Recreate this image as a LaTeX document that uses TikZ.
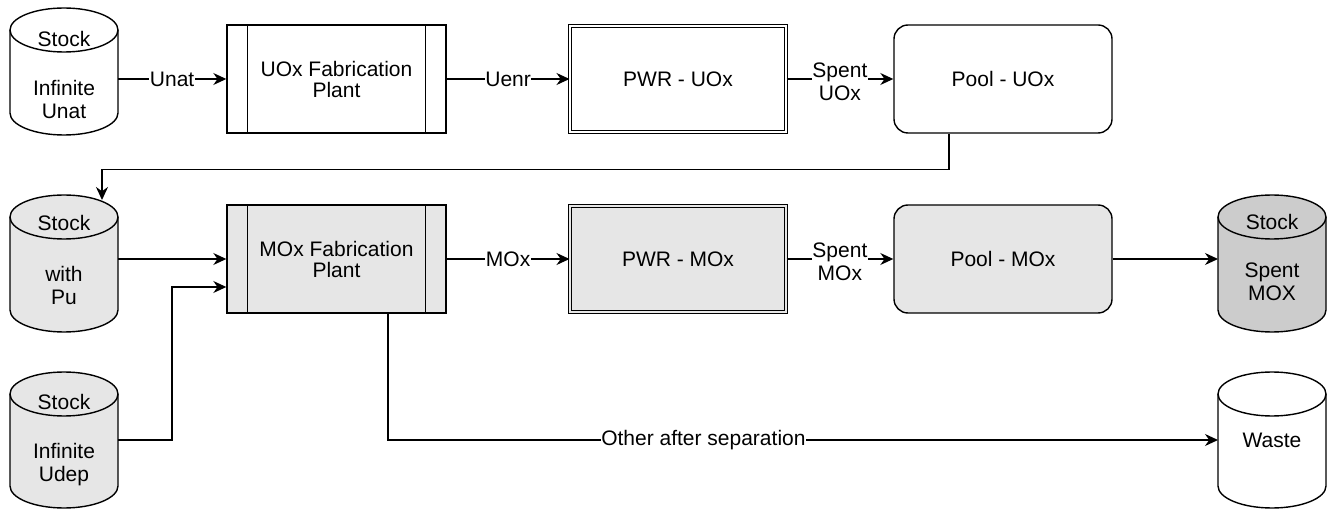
\documentclass[tikz,border=0pt]{standalone}
\usepackage{fontspec}
\setmainfont{Liberation Sans}
\usetikzlibrary{arrows.meta}
\definecolor{boxgray}{HTML}{E6E6E6}
\definecolor{drumgray}{HTML}{CCCCCC}

% cylinder drawn round an empty node #1, filled with #2
\newcommand{\drum}[2]{%
  \filldraw[fill=#2] ([yshift=-22pt]#1.north west) -- ([yshift=22pt]#1.south west)
    arc[start angle=180, end angle=360, x radius=54pt, y radius=22pt]
    -- ([yshift=-22pt]#1.north east)
    arc[start angle=0, end angle=180, x radius=54pt, y radius=22pt] -- cycle;
  \draw ([yshift=-22pt]#1.north west) arc[start angle=180, end angle=360, x radius=54pt, y radius=22pt];}

\begin{document}
\begin{tikzpicture}[x=1pt, y=1pt, line width=1.4pt, font=\fontsize{21}{23}\selectfont]
  \tikzstyle{drum}=[minimum width=108pt, minimum height=137pt, inner sep=0pt, outer sep=0pt]
  \tikzstyle{plant}=[draw, minimum width=219pt, minimum height=108pt, align=center,
    font=\fontsize{21}{21}\selectfont]
  \tikzstyle{reactor}=[draw, double, double distance=2.5pt, line width=1pt, minimum width=216pt, minimum height=106pt]
  \tikzstyle{pool}=[draw, rounded corners=14pt, minimum width=218pt, minimum height=108pt]
  \tikzstyle{flow}=[-{Stealth[length=13pt, width=12pt]}]
  \tikzstyle{lbl}=[fill=white, inner sep=0.5pt, align=center]

  \useasboundingbox (0,0) rectangle (1339,512);

  % stocks
  \node[drum, minimum height=127pt] (unat) at (64,440.5) {};
  \node[drum] (pu) at (64,248.5) {};
  \node[drum, minimum height=136pt] (udep) at (64,72) {};
  \node[drum] (smox) at (1272,248.5) {};
  \node[drum, minimum height=136pt] (waste) at (1272,72) {};

  \drum{unat}{white}
  \drum{pu}{boxgray}
  \drum{udep}{boxgray}
  \drum{smox}{drumgray}
  \drum{waste}{white}

  \node (unatTop) at ([yshift=-31pt]unat.north) {Stock};
  \node[align=center] (unatTxt) at ([yshift=-91pt]unat.north) {Infinite\\Unat};
  \node (puTop) at ([yshift=-28pt]pu.north) {Stock};
  \node[align=center] (puTxt) at ([yshift=-90pt]pu.north) {with\\Pu};
  \node (udepTop) at ([yshift=-30pt]udep.north) {Stock};
  \node[align=center] (udepTxt) at ([yshift=-93pt]udep.north) {Infinite\\Udep};
  \node (smoxTop) at ([yshift=-27pt]smox.north) {Stock};
  \node[align=center] (smoxTxt) at ([yshift=-87pt]smox.north) {Spent\\MOX};
  \node (wasteTxt) at ([yshift=-68pt]waste.north) {Waste};

  % plants, reactors, pools
  \node[plant] (fabU) at (336.5,433) {UOx Fabrication\\Plant};
  \node[reactor] (pwrU) at (678,433) {PWR - UOx};
  \node[pool] (poolU) at (1003,433) {Pool - UOx};
  \node[plant, fill=boxgray] (fabM) at (336.5,253) {MOx Fabrication\\Plant};
  \node[reactor, fill=boxgray, double=boxgray] (pwrM) at (678,253) {PWR - MOx};
  \node[pool, fill=boxgray] (poolM) at (1003,253) {Pool - MOx};

  \foreach \p in {fabU, fabM} {
    \draw ([xshift=21pt]\p.north west) -- ([xshift=21pt]\p.south west);
    \draw ([xshift=-21pt]\p.north east) -- ([xshift=-21pt]\p.south east);
  }

  % flows
  \draw[flow] (unat.east |- fabU.west) -- node[lbl] (unatLbl) {Unat} (fabU.west);
  \draw[flow] (fabU) -- node[lbl] (uenrLbl) {Uenr} (pwrU);
  \draw[flow] (pwrU) -- node[lbl, yshift=-3pt] (suoxLbl) {Spent\\UOx} (poolU);
  \draw[flow] ([xshift=-54pt]poolU.south) -- ++(0,-36) -| ([xshift=38pt,yshift=-5pt]pu.north);
  \draw[flow] (pu.east |- fabM.west) -- (fabM.west);
  \draw[flow] (udep.east) -- ++(54,0) |- ([yshift=-28pt]fabM.west);
  \draw[flow] (fabM) -- node[lbl] (moxLbl) {MOx} (pwrM);
  \draw[flow] (pwrM) -- node[lbl, yshift=-3pt] (smoxLbl) {Spent\\MOx} (poolM);
  \draw[flow] (poolM) -- (smox.west |- poolM);
  \draw[flow] ([xshift=51.5pt]fabM.south) |- node[lbl, pos=0.69] (otherLbl) {Other after separation} (waste.west);
\end{tikzpicture}
\end{document}
